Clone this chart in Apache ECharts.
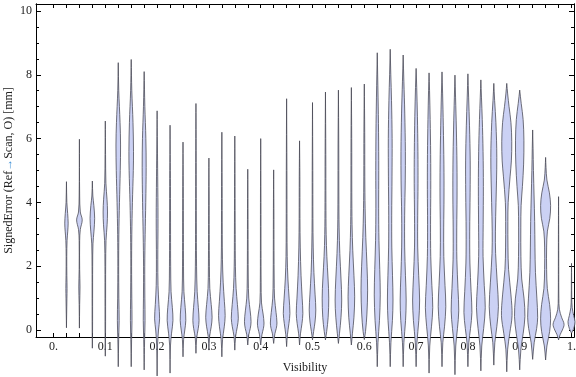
<!DOCTYPE html>
<html>
<head>
<meta charset="utf-8">
<title>SignedError vs Visibility</title>
<script src="https://cdn.jsdelivr.net/npm/echarts@6/dist/echarts.min.js"></script>
<style>
  html, body { margin: 0; padding: 0; background: #fff; }
  #chart { width: 576px; height: 377px; }
</style>
</head>
<body>
<div id="chart"></div>
<script>
// one violin per visibility bin
const visibility = [
  0.025, 0.05, 0.075, 0.1, 0.125, 0.15, 0.175, 0.2, 0.225, 0.25,
  0.275, 0.3, 0.325, 0.35, 0.375, 0.4, 0.425, 0.45, 0.475, 0.5,
  0.525, 0.55, 0.575, 0.6, 0.625, 0.65, 0.675, 0.7, 0.725, 0.75,
  0.775, 0.8, 0.825, 0.85, 0.875, 0.9, 0.925, 0.95, 0.975, 1.0
]

const profiles = [
  [[0.07,0],[0.5,0.4],[1.0,0.9],[1.3,1.2],[1.7,0.8],[2.3,0.6],[2.8,1.2],[3.1,2.6],[3.35,3.4],[3.65,2.4],[4.0,0.8],[4.65,0]],
  [[0.06,0],[0.8,0.5],[1.35,1.2],[1.9,0.5],[2.8,0.5],[3.15,1.8],[3.45,5.6],[3.7,1.8],[4.2,0.5],[5.98,0]],
  [[-0.57,0],[0,0.4],[1,0.5],[2,0.6],[2.7,1.2],[3.1,3.2],[3.5,4.6],[3.9,3.0],[4.2,1.0],[4.67,0]],
  [[-0.82,0],[0,0.5],[1,0.6],[2,0.7],[2.8,1.4],[3.3,3.6],[3.7,4.4],[4.1,3.4],[4.6,1.2],[5.5,0.5],[6.55,0]],
  [[-1.15,0],[-0.3,0.8],[0.3,1.8],[1,1.2],[2,0.8],[3,1.2],[4,2.4],[5,4.0],[5.8,4.6],[6.5,3.6],[7.5,1.0],[8.38,0]],
  [[-1.15,0],[-0.3,0.8],[0.3,1.6],[1,1.2],[2,0.8],[3,1.2],[4,2.4],[5,4.2],[5.6,4.6],[6.5,3.6],[7.5,1.2],[8.48,0]],
  [[-1.25,0],[-0.3,0.9],[0.3,1.8],[1,1.4],[2,1.2],[3,2.0],[4,3.2],[5.1,4.0],[6,3.4],[7,1.4],[8.1,0]],
  [[-1.44,0],[-0.5,0.8],[0,2.8],[0.35,5.0],[0.8,3.6],[1.4,1.8],[2.2,1.4],[3.5,1.8],[4.8,1.2],[5.8,0.6],[6.87,0]],
  [[-1.35,0],[-0.5,0.8],[-0.1,3.0],[0.3,5.8],[0.7,4.6],[1.2,2.0],[2,1.2],[3,1.0],[4.5,0.8],[5.5,0.4],[6.42,0]],
  [[-0.84,0],[-0.3,1.2],[0,3.6],[0.3,5.6],[0.7,4.4],[1.2,1.8],[2,1.0],[3,0.8],[4.5,0.6],[5.89,0]],
  [[-0.73,0],[-0.25,1.4],[0.05,4.6],[0.3,6.2],[0.7,4.8],[1.2,2.4],[2,1.2],[3,0.8],[4.5,0.6],[6,0.4],[7.1,0]],
  [[-0.63,0],[-0.2,1.4],[0.1,4.6],[0.4,6.4],[0.8,4.6],[1.3,1.8],[2,1.0],[3,0.7],[4.2,0.5],[5.39,0]],
  [[-0.84,0],[-0.3,1.4],[0.1,4.8],[0.45,6.6],[0.9,5.0],[1.5,2.6],[2.2,1.2],[3,0.8],[4.5,0.6],[6.2,0]],
  [[-0.63,0],[-0.2,1.6],[0.1,5.0],[0.37,7.0],[0.8,5.2],[1.3,2.6],[2,1.2],[3,0.8],[4.5,0.5],[6.08,0]],
  [[-0.47,0],[-0.15,2.0],[0.05,5.0],[0.26,6.6],[0.6,4.8],[1.0,2.0],[1.6,1.0],[2.5,0.7],[3.8,0.5],[5.04,0]],
  [[-0.47,0],[-0.15,2.4],[0.05,5.4],[0.22,6.6],[0.5,4.8],[0.85,1.6],[1.5,0.8],[2.5,0.6],[4,0.5],[6.0,0]],
  [[-0.42,0],[-0.12,2.4],[0.05,5.2],[0.22,6.6],[0.55,4.8],[1.0,1.8],[1.6,1.0],[2.5,0.7],[3.8,0.5],[5.02,0]],
  [[-0.52,0],[-0.15,1.6],[0.2,4.6],[0.52,6.6],[1.0,5.0],[1.6,2.6],[2.3,1.2],[3.2,0.8],[5,0.6],[7.25,0]],
  [[-0.47,0],[-0.12,1.8],[0.2,4.8],[0.52,6.6],[1.0,5.2],[1.7,3.0],[2.6,1.4],[3.5,0.8],[4.8,0.6],[5.93,0]],
  [[-0.31,0],[-0.05,2.2],[0.25,5.0],[0.63,6.6],[1.1,5.2],[1.8,2.8],[2.6,1.4],[3.5,0.8],[5,0.6],[7.13,0]],
  [[-0.31,0],[-0.05,2.4],[0.4,5.4],[1.0,6.6],[1.6,5.2],[2.3,2.8],[3.0,1.4],[4,0.9],[5.5,0.7],[7.46,0]],
  [[-0.42,0],[-0.1,2.2],[0.4,5.2],[0.94,6.6],[1.6,5.2],[2.4,2.8],[3.2,1.4],[4.2,0.9],[5.8,0.7],[7.52,0]],
  [[-0.47,0],[-0.1,2.2],[0.4,5.2],[1.04,6.6],[1.7,5.2],[2.5,2.8],[3.3,1.4],[4.3,0.9],[6,0.7],[7.6,0]],
  [[-0.3,0],[-0.05,2.4],[0.5,5.2],[1.25,6.6],[2.0,5.4],[2.9,3.0],[3.8,1.6],[4.8,1.0],[6.2,0.8],[7.71,0]],
  [[-1.15,0],[-0.4,1.4],[0.3,4.4],[1.1,6.0],[1.9,5.0],[2.8,3.4],[3.8,2.8],[5,3.0],[6.2,2.6],[7.3,1.6],[8.69,0]],
  [[-1.15,0],[-0.4,1.4],[0.3,4.4],[0.94,5.6],[1.7,4.6],[2.6,3.2],[3.6,3.0],[4.8,3.6],[6.0,3.8],[7.2,2.6],[8.0,1.2],[8.8,0]],
  [[-1.15,0],[-0.4,1.4],[0.3,4.8],[0.94,6.0],[1.7,4.6],[2.6,3.0],[3.6,3.0],[4.7,4.2],[5.6,4.4],[6.8,3.2],[7.8,1.4],[8.62,0]],
  [[-1.15,0],[-0.4,1.6],[0.3,5.4],[0.94,7.0],[1.7,5.2],[2.6,3.2],[3.6,3.2],[4.6,3.8],[5.6,3.6],[6.7,2.6],[7.6,1.2],[8.2,0]],
  [[-1.35,0],[-0.5,1.4],[0.1,4.8],[0.7,7.4],[1.4,5.6],[2.3,3.4],[3.3,3.0],[4.4,3.4],[5.5,3.2],[6.6,2.2],[7.5,1.0],[8.06,0]],
  [[-1.15,0],[-0.4,1.6],[0.1,5.0],[0.73,7.6],[1.4,6.0],[2.3,3.6],[3.2,3.4],[4.2,4.0],[5.2,3.8],[6.4,2.6],[7.4,1.2],[8.09,0]],
  [[-1.4,0],[-0.5,1.6],[0.05,5.0],[0.6,7.6],[1.3,6.0],[2.2,3.8],[3.2,3.6],[4.2,4.2],[5.2,4.0],[6.3,2.8],[7.3,1.2],[7.99,0]],
  [[-1.15,0],[-0.4,1.8],[0.05,5.2],[0.55,8.0],[1.2,6.4],[2.1,4.0],[3.1,3.6],[4.3,4.4],[5.3,4.6],[6.4,3.2],[7.3,1.4],[8.03,0]],
  [[-1.28,0],[-0.5,1.8],[0.05,5.6],[0.7,8.8],[1.4,6.8],[2.3,4.4],[3.3,4.6],[4.5,5.0],[5.6,4.4],[6.6,2.8],[7.3,1.2],[7.84,0]],
  [[-1.1,0],[-0.4,2.0],[0.1,6.0],[0.73,9.2],[1.5,6.8],[2.4,3.6],[3.1,3.2],[4.0,4.4],[5.4,6.0],[6.5,4.2],[7.2,1.6],[7.73,0]],
  [[-1.31,0],[-0.6,1.8],[-0.1,6.0],[0.45,10.6],[1.1,8.4],[1.9,3.6],[2.6,2.4],[3.4,2.2],[4.0,2.8],[4.8,6.6],[5.3,9.2],[5.9,10.0],[6.5,8.4],[7.0,4.6],[7.4,1.8],[7.73,0]],
  [[-1.25,0],[-0.6,2.4],[-0.1,7.0],[0.42,10.4],[1.0,8.6],[1.6,4.0],[2.3,2.4],[3.2,2.2],[3.9,2.8],[4.5,5.4],[5.2,7.8],[5.95,8.4],[6.6,6.8],[7.1,3.0],[7.52,0]],
  [[-0.92,0],[-0.4,3.0],[0.05,8.0],[0.4,10.0],[1.0,8.4],[1.8,5.6],[2.6,4.6],[3.4,4.0],[4.2,2.8],[5.0,1.6],[5.7,0.8],[6.27,0]],
  [[-0.94,0],[-0.5,2.6],[-0.05,8.0],[0.35,10.0],[0.8,8.0],[1.3,3.4],[1.9,2.0],[2.6,2.0],[3.1,3.6],[3.5,8.4],[3.9,10.0],[4.3,7.6],[4.7,2.6],[5.1,0.8],[5.41,0]],
  [[-0.31,0],[-0.15,3.0],[0.0,7.6],[0.18,11.0],[0.4,6.0],[0.65,1.6],[1.0,0.6],[2,0.4],[3,0.3],[4.18,0]],
  [[-0.1,0],[-0.02,2.6],[0.1,5.4],[0.26,7.0],[0.45,4.4],[0.7,1.4],[1.0,0.5],[1.5,0.3],[2.09,0]]
]

const xTickValues = [0].concat(visibility)
const xLabelValues = [0, 0.1, 0.2, 0.3, 0.4, 0.5, 0.6, 0.7, 0.8, 0.9, 1.0]
const xLabelText = ['0.', '0.1', '0.2', '0.3', '0.4', '0.5', '0.6', '0.7', '0.8', '0.9', '1.']
const yLabelValues = [0, 2, 4, 6, 8, 10]
const yMinorValues = [0, 0.5, 1, 1.5, 2, 2.5, 3, 3.5, 4, 4.5, 5, 5.5, 6, 6.5, 7, 7.5, 8, 8.5, 9, 9.5, 10]

const X_MIN = -0.0338, X_MAX = 1.0048
const Y_MIN = -0.219, Y_MAX = 10.219
const DENS_TO_X = 0.000965   // half-width in x units per density unit
const FONT = '"Liberation Serif", "DejaVu Serif", serif'

// frame lines stay on the grid edges, not on zero
const frameLine = { show: true, onZero: false, lineStyle: { color: '#000', width: 1 } }

const xLabelFor = (v) => {
  const i = xLabelValues.findIndex(x => Math.abs(x - v) < 1e-6)
  return i < 0 ? '' : xLabelText[i]
}

const makeY = (position, ticks, len, labels) => ({
  type: 'value',
  position: position,
  min: Y_MIN,
  max: Y_MAX,
  axisLine: frameLine,
  splitLine: { show: false },
  axisTick: { show: true, inside: true, length: len, customValues: ticks, lineStyle: { color: '#000' } },
  axisLabel: labels
    ? { show: true, customValues: yLabelValues, margin: 4, color: '#222', fontFamily: FONT, fontSize: 12 }
    : { show: false }
})

const renderViolin = (params, api) => {
  const vis = api.value(0)
  const prof = profiles[api.value(1)]
  const right = prof.map(p => api.coord([vis + p[1] * DENS_TO_X, p[0]]))
  const left = prof.slice().reverse().map(p => api.coord([vis - p[1] * DENS_TO_X, p[0]]))
  return {
    type: 'polygon',
    shape: { points: right.concat(left), smooth: 0.35 },
    style: { fill: '#cbd1f4', stroke: 'rgba(70,70,82,0.85)', lineWidth: 0.9 }
  }
}

const option = {
  animation: false,
  backgroundColor: '#fff',
  grid: { left: 36, right: 2, top: 4, bottom: 40, outerBoundsMode: 'none', containLabel: false },
  xAxis: [
    {
      type: 'value',
      position: 'bottom',
      min: X_MIN,
      max: X_MAX,
      name: 'Visibility',
      nameLocation: 'middle',
      nameGap: 25,
      nameTextStyle: { color: '#222', fontFamily: FONT, fontSize: 12 },
      axisLine: frameLine,
      splitLine: { show: false },
      axisTick: { show: true, inside: true, length: 4, customValues: xTickValues, lineStyle: { color: '#000' } },
      axisLabel: { show: true, customValues: xLabelValues, formatter: xLabelFor, margin: 4, color: '#222', fontFamily: FONT, fontSize: 12 }
    },
    {
      type: 'value',
      position: 'top',
      min: X_MIN,
      max: X_MAX,
      axisLine: frameLine,
      splitLine: { show: false },
      axisTick: { show: true, inside: true, length: 4, customValues: xTickValues, lineStyle: { color: '#000' } },
      axisLabel: { show: false }
    }
  ],
  yAxis: [
    Object.assign(makeY('left', yLabelValues, 5, true), {
      name: '{t|SignedError (Ref}{a|→}{t|Scan, O) [mm]}',
      nameLocation: 'middle',
      nameGap: 21,
      nameMoveOverlap: false,
      nameTextStyle: {
        rich: {
          t: { color: '#222', fontFamily: FONT, fontSize: 12 },
          a: { color: '#3d8fd6', fontFamily: FONT, fontSize: 12 }
        }
      }
    }),
    makeY('left', yMinorValues, 3, false),
    makeY('right', yLabelValues, 5, false),
    makeY('right', yMinorValues, 3, false)
  ],
  series: [
    {
      type: 'custom',
      clip: false,
      xAxisIndex: 0,
      yAxisIndex: 0,
      renderItem: renderViolin,
      encode: { x: 0, y: -1 },
      data: visibility.map((v, i) => [v, i])
    }
  ]
}

const myChart = echarts.init(document.getElementById('chart'))
myChart.setOption(option)
</script>
</body>
</html>
